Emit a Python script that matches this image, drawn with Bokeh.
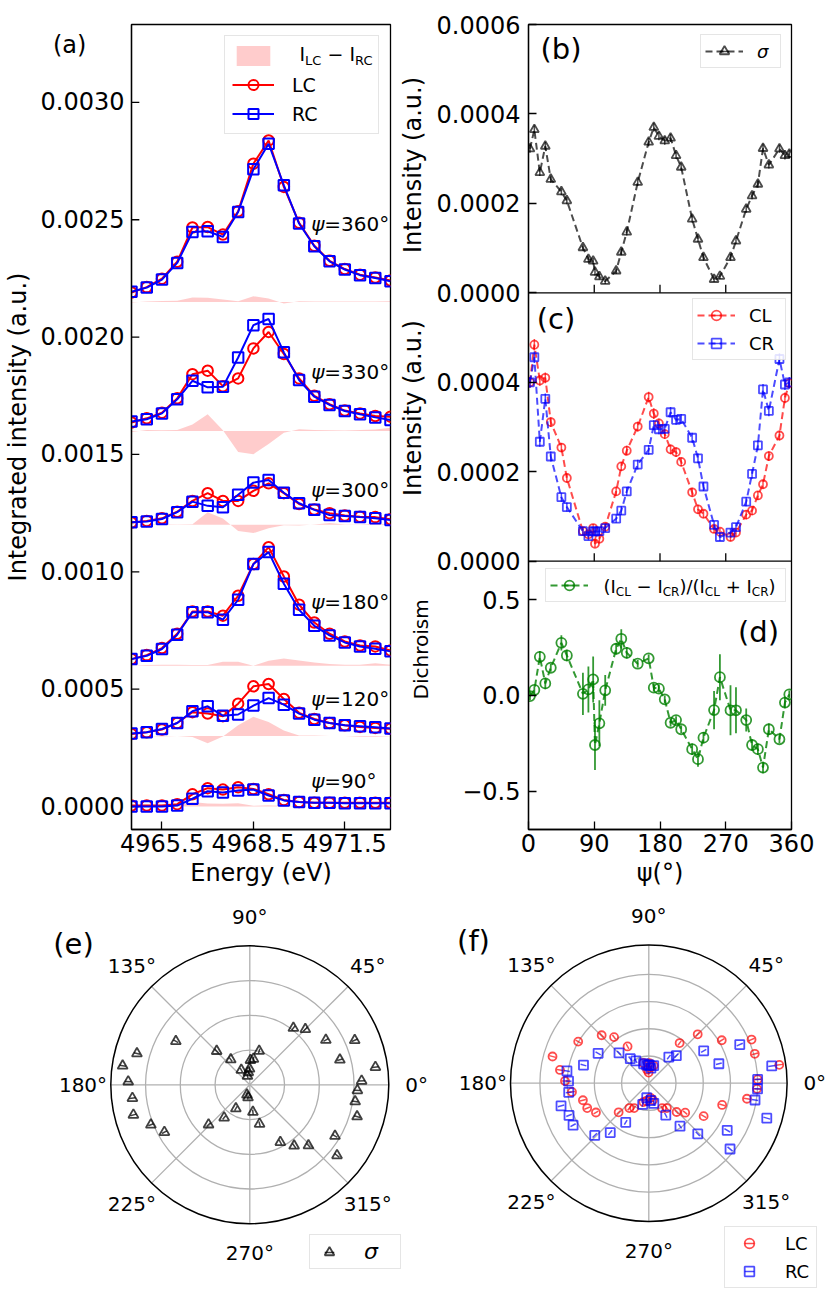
import math
import numpy as np
from bokeh.plotting import figure
from bokeh.models import (Range1d, FixedTicker, CustomJSTickFormatter,
                          Legend, LegendItem, Label, Span)
from bokeh.layouts import row, column
from bokeh.core.properties import value
from bokeh.embed import file_html
from bokeh.resources import INLINE

FONT = "DejaVu Sans"

# ---------------- panel (a) data ----------------
ENERGY = [4964.5, 4965.0, 4965.5, 4966.0, 4966.5, 4967.0, 4967.5, 4968.0, 4968.5,
          4969.0, 4969.5, 4970.0, 4970.5, 4971.0, 4971.5, 4972.0, 4972.5, 4973.0]
PSI_A = ["360", "330", "300", "180", "120", "90"]
LC_360 = [0.002190, 0.002213, 0.002249, 0.002321, 0.002467, 0.002469, 0.002437, 0.002536, 0.002739,
          0.002838, 0.002640, 0.002487, 0.002389, 0.002325, 0.002290, 0.002266, 0.002254, 0.002241]
RC_360 = [0.002193, 0.002211, 0.002245, 0.002316, 0.002448, 0.002451, 0.002427, 0.002533, 0.002715,
          0.002824, 0.002647, 0.002484, 0.002387, 0.002323, 0.002288, 0.002264, 0.002252, 0.002238]
LC_330 = [0.001636, 0.001654, 0.001678, 0.001739, 0.001842, 0.001857, 0.001791, 0.001824, 0.001952,
          0.002022, 0.001928, 0.001824, 0.001750, 0.001714, 0.001687, 0.001675, 0.001664, 0.001661]
RC_330 = [0.001640, 0.001650, 0.001675, 0.001735, 0.001814, 0.001786, 0.001788, 0.001913, 0.002051,
          0.002077, 0.001935, 0.001817, 0.001746, 0.001711, 0.001685, 0.001671, 0.001658, 0.001647]
LC_300 = [0.001210, 0.001217, 0.001228, 0.001256, 0.001302, 0.001335, 0.001302, 0.001302, 0.001345,
          0.001377, 0.001335, 0.001289, 0.001266, 0.001250, 0.001240, 0.001235, 0.001233, 0.001224]
RC_300 = [0.001211, 0.001214, 0.001225, 0.001254, 0.001299, 0.001281, 0.001275, 0.001328, 0.001380,
          0.001391, 0.001337, 0.001292, 0.001264, 0.001242, 0.001238, 0.001233, 0.001228, 0.001221]
LC_180 = [0.000628, 0.000645, 0.000675, 0.000736, 0.000831, 0.000831, 0.000813, 0.000898, 0.001033,
          0.001105, 0.000980, 0.000860, 0.000784, 0.000736, 0.000703, 0.000686, 0.000682, 0.000665]
RC_180 = [0.000628, 0.000642, 0.000671, 0.000732, 0.000828, 0.000828, 0.000796, 0.000881, 0.001033,
          0.001084, 0.000949, 0.000838, 0.000770, 0.000729, 0.000699, 0.000682, 0.000672, 0.000661]
LC_120 = [0.000309, 0.000316, 0.000328, 0.000356, 0.000402, 0.000396, 0.000385, 0.000438, 0.000512,
          0.000522, 0.000458, 0.000399, 0.000373, 0.000356, 0.000346, 0.000339, 0.000335, 0.000331]
RC_120 = [0.000311, 0.000316, 0.000330, 0.000356, 0.000406, 0.000427, 0.000387, 0.000392, 0.000430,
          0.000462, 0.000434, 0.000396, 0.000370, 0.000356, 0.000346, 0.000342, 0.000338, 0.000332]
LC_90 = [0.000004, 0.000004, 0.000004, 0.000010, 0.000052, 0.000078, 0.000072, 0.000082, 0.000075,
         0.000052, 0.000028, 0.000019, 0.000016, 0.000016, 0.000016, 0.000016, 0.000016, 0.000016]
RC_90 = [0.000000, 0.000000, 0.000000, 0.000004, 0.000033, 0.000065, 0.000060, 0.000068, 0.000072,
         0.000047, 0.000026, 0.000019, 0.000016, 0.000016, 0.000014, 0.000014, 0.000014, 0.000014]
BASE_A = [0.00215, 0.0016, 0.0012, 0.0006, 0.0003, 0.0]
LABEL_X = 4970.4
LABEL_Y = [0.00248, 0.00185, 0.00135, 0.00087, 0.00046, 0.00011]
A_XLIM = (4964.5, 4973.0)
A_YLIM = (-0.000098, 0.003332)
A_XTICKS = [4965.5, 4968.5, 4971.5]
A_YTICKS = [0.0, 0.0005, 0.001, 0.0015, 0.002, 0.0025, 0.003]
A_YLABELS = ["0.0000", "0.0005", "0.0010", "0.0015", "0.0020", "0.0025", "0.0030"]
A_TAG_Y = 0.003243          # vertical position of the "(a)" tag

# ---------------- panels (b)-(f) data ----------------
PSI = [2, 8, 15.5, 23, 30.5, 45, 52.5, 74.5, 82, 88.5, 91, 97, 105, 120, 127, 134.5, 149.5,
       164.5, 171.5, 178.5, 186.5, 194.5, 202, 209, 224, 232, 239.5, 254, 262, 276.5, 284,
       298, 306, 314, 321, 329, 343.5, 351, 357]
SIGMA = [3.22e-4, 3.65e-4, 2.69e-4, 3.28e-4, 2.54e-4, 2.26e-4, 2.06e-4, 1.01e-4, 0.75e-4,
         0.71e-4, 0.46e-4, 0.36e-4, 0.26e-4, 0.49e-4, 0.91e-4, 1.36e-4, 2.47e-4, 3.37e-4,
         3.70e-4, 3.50e-4, 3.40e-4, 3.46e-4, 3.07e-4, 2.81e-4, 1.65e-4, 1.20e-4, 0.79e-4,
         0.30e-4, 0.37e-4, 0.79e-4, 1.16e-4, 1.87e-4, 2.17e-4, 2.43e-4, 3.23e-4, 2.86e-4,
         3.22e-4, 3.07e-4, 3.10e-4]
SIGMA_ERR = [9e-6, 9e-6, 8e-6, 9e-6, 8e-6, 8e-6, 8e-6, 7e-6, 7e-6, 7e-6, 7e-6, 6e-6, 6e-6,
             7e-6, 7e-6, 8e-6, 8e-6, 9e-6, 9e-6, 9e-6, 9e-6, 9e-6, 8e-6, 8e-6, 8e-6, 7e-6,
             7e-6, 6e-6, 6e-6, 7e-6, 7e-6, 8e-6, 8e-6, 8e-6, 9e-6, 8e-6, 9e-6, 9e-6, 9e-6]
CL = [4.00e-4, 4.84e-4, 4.04e-4, 4.10e-4, 3.11e-4, 2.54e-4, 1.86e-4, 0.67e-4, 0.60e-4,
      0.74e-4, 0.39e-4, 0.50e-4, 0.77e-4, 1.56e-4, 2.12e-4, 2.47e-4, 3.01e-4, 3.67e-4,
      3.30e-4, 3.08e-4, 2.84e-4, 2.50e-4, 2.44e-4, 2.22e-4, 1.54e-4, 1.16e-4, 1.06e-4,
      0.72e-4, 0.66e-4, 0.54e-4, 0.64e-4, 1.04e-4, 1.13e-4, 1.47e-4, 1.72e-4, 2.35e-4,
      2.81e-4, 3.65e-4, 3.98e-4]
CL_ERR = [1.2e-5, 1.3e-5, 1.2e-5, 1.2e-5, 1.1e-5, 1.0e-5, 1.0e-5, 0.9e-5, 0.9e-5, 0.9e-5,
          0.8e-5, 0.9e-5, 0.9e-5, 1.0e-5, 1.0e-5, 1.1e-5, 1.1e-5, 1.2e-5, 1.2e-5, 1.1e-5,
          1.1e-5, 1.1e-5, 1.1e-5, 1.0e-5, 1.0e-5, 1.0e-5, 0.9e-5, 0.9e-5, 0.9e-5, 0.9e-5,
          0.9e-5, 1.0e-5, 1.0e-5, 1.0e-5, 1.0e-5, 1.1e-5, 1.1e-5, 1.2e-5, 1.2e-5]
CR = [4.00e-4, 4.56e-4, 2.67e-4, 3.63e-4, 2.34e-4, 1.43e-4, 1.21e-4, 0.67e-4, 0.56e-4,
      0.67e-4, 0.66e-4, 0.67e-4, 0.74e-4, 0.95e-4, 1.13e-4, 1.56e-4, 2.16e-4, 2.49e-4,
      3.04e-4, 2.95e-4, 2.96e-4, 3.33e-4, 3.16e-4, 3.18e-4, 2.76e-4, 2.30e-4, 1.67e-4,
      0.81e-4, 0.54e-4, 0.64e-4, 0.76e-4, 1.33e-4, 1.95e-4, 2.59e-4, 3.84e-4, 3.36e-4,
      4.52e-4, 3.95e-4, 4.00e-4]
CR_ERR = [1.2e-5, 1.3e-5, 1.1e-5, 1.2e-5, 1.1e-5, 1.0e-5, 1.0e-5, 0.9e-5, 0.9e-5, 0.9e-5,
          0.9e-5, 0.9e-5, 0.9e-5, 0.9e-5, 1.0e-5, 1.0e-5, 1.1e-5, 1.1e-5, 1.1e-5, 1.1e-5,
          1.1e-5, 1.2e-5, 1.1e-5, 1.1e-5, 1.1e-5, 1.1e-5, 1.0e-5, 0.9e-5, 0.9e-5, 0.9e-5,
          0.9e-5, 1.0e-5, 1.0e-5, 1.1e-5, 1.2e-5, 1.2e-5, 1.3e-5, 1.2e-5, 1.2e-5]
DICH = [-0.004, 0.028, 0.201, 0.062, 0.144, 0.274, 0.208, 0.008, 0.031, 0.083, -0.259,
        -0.146, 0.026, 0.243, 0.295, 0.222, 0.165, 0.193, 0.040, 0.035, -0.021, -0.143,
        -0.129, -0.177, -0.281, -0.333, -0.221, -0.077, 0.095, -0.078, -0.078, -0.129,
        -0.259, -0.281, -0.377, -0.177, -0.229, -0.038, 0.005]
DICH_ERR = [0.02, 0.02, 0.03, 0.03, 0.02, 0.04, 0.03, 0.11, 0.12, 0.12, 0.13, 0.12, 0.08,
            0.03, 0.05, 0.03, 0.02, 0.02, 0.02, 0.02, 0.02, 0.02, 0.02, 0.02, 0.03, 0.04,
            0.03, 0.10, 0.12, 0.13, 0.12, 0.06, 0.03, 0.03, 0.03, 0.03, 0.02, 0.03, 0.02]
PSI_LIM = (0, 360)
PSI_TICKS = [0, 90, 180, 270, 360]
B_LIM = (0.0, 0.0006)
C_LIM = (0.0, 0.0006)
D_LIM = (-0.7, 0.7)
B_YTICKS = [0.0, 0.0002, 0.0004, 0.0006]
B_YLABELS = ["0.0000", "0.0002", "0.0004", "0.0006"]
C_YTICKS = [0.0, 0.0002, 0.0004]
C_YLABELS = ["0.0000", "0.0002", "0.0004"]
D_YTICKS = [-0.5, 0.0, 0.5]
D_YLABELS = ["\u22120.5", "0.0", "0.5"]
THETA_TICKS = [0, 45, 90, 135, 180, 225, 270, 315]
THETA_LABELS = ["0\u00b0", "45\u00b0", "90\u00b0", "135\u00b0", "180\u00b0", "225\u00b0", "270\u00b0", "315\u00b0"]
E_RINGS = [1e-4, 2e-4, 3e-4]
E_RMAX = 4e-4
F_RINGS = [1e-4, 2e-4, 3e-4, 4e-4]
F_RMAX = 5.08e-4

# ---------------- layout constants (pixels) ----------------
ROW1_H = 894
ROW2_H = 406
A_W = 400
S_W = 33
R_W = 398
E_W = 430
F_W = 401
FRAME_H = 806
A_FRAME_W = 265
PANEL_H = FRAME_H / 3.0
TICK_PX = 8

CHAR_W = {"(": 0.390, ")": 0.390, "/": 0.337, "I": 0.295, "C": 0.698, "L": 0.557,
          "R": 0.695, " ": 0.318, "\u2212": 0.838, "+": 0.838}


def style_axis(ax, standoff, label_standoff=4):
    ax.major_label_text_font = FONT
    ax.major_label_text_font_size = "24px"
    ax.major_label_text_color = "black"
    ax.axis_label_text_font = FONT
    ax.axis_label_text_font_size = "24px"
    ax.axis_label_text_font_style = "normal"
    ax.axis_label_text_color = "black"
    ax.major_tick_in = TICK_PX
    ax.major_tick_out = 0
    ax.minor_tick_in = 0
    ax.minor_tick_out = 0
    ax.major_tick_line_color = "black"
    ax.major_tick_line_width = 1.3
    ax.axis_line_color = "black"
    ax.axis_line_width = 1.3
    ax.major_label_standoff = standoff
    ax.axis_label_standoff = label_standoff


def lookup_formatter(pos, labs):
    return CustomJSTickFormatter(args=dict(pos=pos, labs=labs), code="""
for (let i = 0; i < pos.length; i++) {
  if (Math.abs(pos[i] - tick) < 1e-9) { return labs[i]; }
}
return "";
""")


def add_label(p, x, y, text, size, angle=0.0, align="center", level="overlay"):
    p.add_layout(Label(x=x, y=y, x_units="screen", y_units="screen", text=text,
                       text_font=FONT, text_font_size=f"{size}px", text_color="black",
                       text_align=align, text_baseline="middle", angle=angle, level=level))


def rich_text(p, x, y, pieces, main_px, sub_px, drop):
    cx = x
    for txt, sub in pieces:
        size = sub_px if sub else main_px
        if txt.strip():
            add_label(p, cx, y - drop if sub else y, txt, size, align="left")
        cx += sum(CHAR_W[c] for c in txt) * size


def make_legend(items, location, font_px, pad, glyph_w, glyph_h, standoff, label_w,
                spacing=4, margin=10, style="normal", bg_alpha=0.85):
    return Legend(items=items, location=location, margin=margin, padding=pad,
                  spacing=spacing, glyph_width=glyph_w, glyph_height=glyph_h,
                  label_standoff=standoff, label_width=label_w, label_height=glyph_h,
                  label_text_font=FONT, label_text_font_size=f"{font_px}px",
                  label_text_color="black", label_text_font_style=style,
                  border_line_color="#cccccc", border_line_width=1.5,
                  background_fill_color="white", background_fill_alpha=bg_alpha)


# ======================= panel (a) =======================
pa = figure(width=A_W, height=ROW1_H, x_range=Range1d(*A_XLIM), y_range=Range1d(*A_YLIM),
            output_backend="svg", toolbar_location=None,
            min_border_left=125, min_border_right=A_W - 125 - A_FRAME_W, min_border_top=24,
            min_border_bottom=ROW1_H - 24 - FRAME_H)
pa.grid.visible = False
pa.outline_line_color = "black"
pa.outline_line_width = 1.3
style_axis(pa.xaxis[0], 4, 4)
style_axis(pa.yaxis[0], 7, 6)
pa.yaxis.major_tick_in = 0
pa.xaxis.ticker = FixedTicker(ticks=A_XTICKS, minor_ticks=[])
a_pos = A_YTICKS + [A_TAG_Y]
a_lab = A_YLABELS + ["(a)" + "\u00a0" * 5]
pa.yaxis.ticker = FixedTicker(ticks=a_pos, minor_ticks=[])
pa.yaxis.formatter = lookup_formatter(a_pos, a_lab)
pa.xaxis.axis_label = "Energy (eV)"
pa.yaxis.axis_label = "Integrated intensity (a.u.)"
# inward y tick marks (drawn at the tick values only)
a_tick_len = (A_XLIM[1] - A_XLIM[0]) * TICK_PX / A_FRAME_W
pa.segment(x0=A_XLIM[0], y0=A_YTICKS, x1=A_XLIM[0] + a_tick_len, y1=A_YTICKS,
           line_color="black", line_width=1.3)

LC_A = [LC_360, LC_330, LC_300, LC_180, LC_120, LC_90]
RC_A = [RC_360, RC_330, RC_300, RC_180, RC_120, RC_90]
fill_r = None
lc_r = rc_r = None
for i in range(len(LC_A)):
    lc = np.array(LC_A[i])
    rc = np.array(RC_A[i])
    fr = pa.varea(x=ENERGY, y1=BASE_A[i], y2=BASE_A[i] + lc - rc, fill_color="red", fill_alpha=0.2)
    if fill_r is None:
        fill_r = fr
    l1 = pa.line(ENERGY, lc, line_color="red", line_width=2)
    m1 = pa.scatter(ENERGY, lc, marker="circle", size=10.5, fill_color=None,
                    line_color="red", line_width=2)
    e1 = pa.scatter(ENERGY, lc, marker="dash", angle=math.pi / 2, size=0,
                    line_color="red", line_width=2)
    l2 = pa.line(ENERGY, rc, line_color="blue", line_width=2)
    m2 = pa.scatter(ENERGY, rc, marker="square", size=10.5, fill_color=None,
                    line_color="blue", line_width=2)
    e2 = pa.scatter(ENERGY, rc, marker="dash", angle=math.pi / 2, size=0,
                    line_color="blue", line_width=2)
    if lc_r is None:
        lc_r = [l1, m1, e1]
        rc_r = [l2, m2, e2]

pa.text(x=[LABEL_X] * len(PSI_A), y=LABEL_Y, text=["\u03c8"] * len(PSI_A),
        text_font=value(FONT), text_font_size="20px", text_font_style="italic",
        text_color="black", text_baseline="middle", text_align="left")
pa.text(x=[LABEL_X] * len(PSI_A), y=LABEL_Y, text=["=" + s + "\u00b0" for s in PSI_A],
        x_offset=13, text_font=value(FONT), text_font_size="20px",
        text_color="black", text_baseline="middle", text_align="left")

leg_a = make_legend([LegendItem(label=" ", renderers=[fill_r]),
                     LegendItem(label="LC", renderers=lc_r),
                     LegendItem(label="RC", renderers=rc_r)],
                    "top_right", 19, 7, 42, 25, 18, 79, spacing=4, margin=11, bg_alpha=0.0)
pa.add_layout(leg_a)
leg_a_w = 2 * 7 + 42 + 18 + 79
txt_x = A_FRAME_W - 11 - leg_a_w + 7 + 42 + 18
row_y = FRAME_H - 11 - 7 - 12.5
rich_text(pa, txt_x, row_y, [("I", 0), ("LC", 1), (" ", 0), ("\u2212", 0), (" ", 0),
                             ("I", 0), ("RC", 1)], 19, 13, 6)

# ======================= strip with the y titles of (b), (c), (d) =======================
ps = figure(width=S_W, height=ROW1_H, x_range=Range1d(0, S_W), y_range=Range1d(0, ROW1_H),
            x_axis_type=None, y_axis_type=None, output_backend="svg", toolbar_location=None,
            min_border=0, outline_line_color=None)
TITLE_X = [12.5, 12.5, 20.5]
TITLE_Y = [738, 468, 200]
TITLE_TXT = ["Intensity (a.u.)", "Intensity (a.u.)", "Dichroism"]
TITLE_SIZE = ["24px", "24px", "20px"]
ps.text(x=TITLE_X, y=TITLE_Y, text=TITLE_TXT, angle=math.pi / 2, text_font=value(FONT),
        text_font_size=TITLE_SIZE, text_color="black", text_align="center",
        text_baseline="middle")


# ======================= panels (b), (c), (d) =======================
def panel_range(lim, k):
    span = lim[1] - lim[0]
    return (lim[0] - (2 - k) * span, lim[1] + k * span)


RB = panel_range(B_LIM, 0)
RCR = panel_range(C_LIM, 1)
RD = panel_range(D_LIM, 2)

pr = figure(width=R_W, height=ROW1_H, x_range=Range1d(*PSI_LIM), y_range=Range1d(*RB),
            output_backend="svg", toolbar_location=None,
            min_border_left=92, min_border_right=R_W - 92 - 266, min_border_top=23,
            min_border_bottom=ROW1_H - 23 - FRAME_H)
pr.extra_y_ranges = {"c": Range1d(*RCR), "d": Range1d(*RD)}
pr.grid.visible = False
pr.outline_line_color = "black"
pr.outline_line_width = 1.3
style_axis(pr.xaxis[0], 4, 4)
style_axis(pr.yaxis[0], 8, 4)
pr.xaxis.ticker = FixedTicker(ticks=PSI_TICKS, minor_ticks=[])
pr.xaxis.axis_label = "\u03c8(\u00b0)"


def to_b(v, rng):
    frac = (v - rng[0]) / (rng[1] - rng[0])
    return round(RB[0] + frac * (RB[1] - RB[0]), 12)


ypos, ylab = [], []
for ticks, labs, rng in ((B_YTICKS, B_YLABELS, RB), (C_YTICKS, C_YLABELS, RCR), (D_YTICKS, D_YLABELS, RD)):
    for t, l in zip(ticks, labs):
        ypos.append(to_b(t, rng))
        ylab.append(l)
order = sorted(range(len(ypos)), key=lambda i: ypos[i])
ypos = [ypos[i] for i in order]
ylab = [ylab[i] for i in order]
pr.yaxis.ticker = FixedTicker(ticks=ypos, minor_ticks=[])
pr.yaxis.formatter = lookup_formatter(ypos, ylab)

# panel separators and inner x ticks
pr.add_layout(Span(location=B_LIM[0], dimension="width", line_color="black", line_width=1.3))
pr.add_layout(Span(location=D_LIM[1], dimension="width", line_color="black", line_width=1.3,
                   y_range_name="d"))
inner = [t for t in PSI_TICKS if PSI_LIM[0] < t < PSI_LIM[1]]
tick_b = (B_LIM[1] - B_LIM[0]) * TICK_PX / PANEL_H
pr.segment(x0=inner, y0=B_LIM[0], x1=inner, y1=B_LIM[0] + tick_b, line_color="black", line_width=1.3)
pr.segment(x0=inner, y0=C_LIM[0], x1=inner, y1=C_LIM[0] + tick_b, line_color="black",
           line_width=1.3, y_range_name="c")

sig = np.array(SIGMA)
sig_e = np.array(SIGMA_ERR)
clv = np.array(CL)
cl_e = np.array(CL_ERR)
crv = np.array(CR)
cr_e = np.array(CR_ERR)
dv = np.array(DICH)
d_e = np.array(DICH_ERR)

# (b)
b_line = pr.line(PSI, SIGMA, line_color="black", line_alpha=0.7, line_width=2, line_dash="7 4")
pr.segment(x0=PSI, y0=sig - sig_e, x1=PSI, y1=sig + sig_e, line_color="black", line_alpha=0.7, line_width=1.5)
b_pts = pr.scatter(PSI, SIGMA, marker="triangle", size=9, fill_color=None, line_color="black",
                   line_alpha=0.7, line_width=1.8)
b_err = pr.scatter(PSI, SIGMA, marker="dash", angle=math.pi / 2, size=0, line_color="black",
                   line_alpha=0.7, line_width=1.5)

# (c)
c1_line = pr.line(PSI, CL, line_color="red", line_alpha=0.7, line_width=2, line_dash="7 4", y_range_name="c")
pr.segment(x0=PSI, y0=clv - cl_e, x1=PSI, y1=clv + cl_e, line_color="red", line_alpha=0.7,
           line_width=1.5, y_range_name="c")
c1_pts = pr.scatter(PSI, CL, marker="circle", size=8, fill_color=None, line_color="red",
                    line_alpha=0.7, line_width=1.8, y_range_name="c")
c1_err = pr.scatter(PSI, CL, marker="dash", angle=math.pi / 2, size=0, line_color="red",
                    line_alpha=0.7, line_width=1.5, y_range_name="c")
c2_line = pr.line(PSI, CR, line_color="blue", line_alpha=0.7, line_width=2, line_dash="7 4", y_range_name="c")
pr.segment(x0=PSI, y0=crv - cr_e, x1=PSI, y1=crv + cr_e, line_color="blue", line_alpha=0.7,
           line_width=1.5, y_range_name="c")
c2_pts = pr.scatter(PSI, CR, marker="square", size=8, fill_color=None, line_color="blue",
                    line_alpha=0.7, line_width=1.8, y_range_name="c")
c2_err = pr.scatter(PSI, CR, marker="dash", angle=math.pi / 2, size=0, line_color="blue",
                    line_alpha=0.7, line_width=1.5, y_range_name="c")

# (d)
d_line = pr.line(PSI, DICH, line_color="green", line_alpha=0.8, line_width=2, line_dash="7 4", y_range_name="d")
pr.segment(x0=PSI, y0=dv - d_e, x1=PSI, y1=dv + d_e, line_color="green", line_alpha=0.8,
           line_width=1.8, y_range_name="d")
d_pts = pr.scatter(PSI, DICH, marker="circle", size=10, fill_color=None, line_color="green",
                   line_alpha=0.8, line_width=1.8, y_range_name="d")
d_err = pr.scatter(PSI, DICH, marker="dash", angle=math.pi / 2, size=0, line_color="green",
                   line_alpha=0.8, line_width=1.8, y_range_name="d")

pr.add_layout(make_legend([LegendItem(label="\u03c3", renderers=[b_line, b_pts, b_err])],
                          "top_right", 18, 4, 38, 24, 14, 19, margin=10, style="italic"))
pr.add_layout(make_legend([LegendItem(label="CL", renderers=[c1_line, c1_pts, c1_err]),
                           LegendItem(label="CR", renderers=[c2_line, c2_pts, c2_err])],
                          (164, 469), 18, 4, 38, 24, 14, 32))
pr.add_layout(make_legend([LegendItem(label=" ", renderers=[d_line, d_pts, d_err])],
                          (17, 227), 18, 4, 38, 24, 16, 177, bg_alpha=0.0))
rich_text(pr, 17 + 4 + 38 + 16, 227 + 16,
          [("(", 0), ("I", 0), ("CL", 1), (" ", 0), ("\u2212", 0), (" ", 0), ("I", 0), ("CR", 1),
           (")/(", 0), ("I", 0), ("CL", 1), (" ", 0), ("+", 0), (" ", 0), ("I", 0), ("CR", 1),
           (")", 0)], 18, 12, 5)

add_label(pr, 32.5, FRAME_H - 25, "(b)", 29)
add_label(pr, 27.5, FRAME_H - 295, "(c)", 29)
add_label(pr, 230, 197.5, "(d)", 29)


# ======================= polar panels (e), (f) =======================
def polar_fig(width, cx, cy, rmax_px, rmax, rings):
    s = rmax_px / rmax
    p = figure(width=width, height=ROW2_H,
               x_range=Range1d(-cx / s, (width - cx) / s),
               y_range=Range1d(-(ROW2_H - cy) / s, cy / s),
               x_axis_type=None, y_axis_type=None, output_backend="svg",
               toolbar_location=None, min_border=0, outline_line_color=None)
    p.circle(x=0, y=0, radius=rings, fill_color=None, line_color="#b0b0b0", line_width=1.3)
    p.ray(x=0, y=0, length=rmax, angle=THETA_TICKS, angle_units="deg",
          line_color="#b0b0b0", line_width=1.3)
    p.circle(x=0, y=0, radius=rmax, fill_color=None, line_color="black", line_width=1.5)
    th = np.radians(THETA_TICKS)
    p.text(x=1.2 * rmax * np.cos(th), y=1.21 * rmax * np.sin(th), text=THETA_LABELS,
           text_font=value(FONT), text_font_size="20px", text_color="black",
           text_align="center", text_baseline="middle")
    return p


def polar_series(p, r, err, marker, color, alpha, size):
    th = np.radians(PSI)
    r = np.array(r)
    err = np.array(err)
    p.segment(x0=(r - err) * np.cos(th), y0=(r - err) * np.sin(th),
              x1=(r + err) * np.cos(th), y1=(r + err) * np.sin(th),
              line_color=color, line_alpha=alpha, line_width=1.5)
    pts = p.scatter(r * np.cos(th), r * np.sin(th), marker=marker, size=size, fill_color=None,
                    line_color=color, line_alpha=alpha, line_width=1.8)
    bar = p.scatter(r * np.cos(th), r * np.sin(th), marker="dash", angle=math.pi / 2, size=0,
                    line_color=color, line_alpha=alpha, line_width=1.5)
    return [pts, bar]


pe = polar_fig(E_W, 249.3, 190.3, 139.0, E_RMAX, E_RINGS)
e_r = polar_series(pe, SIGMA, SIGMA_ERR, "triangle", "black", 0.75, 10)
pe.add_layout(make_legend([LegendItem(label="\u03c3", renderers=e_r)], (309, 31),
                          22, 4, 30, 24, 20, 32, style="italic"))
add_label(pe, 73, ROW2_H - (943 - ROW1_H), "(e)", 29)

pf = polar_fig(F_W, 648.3 - E_W, 188.7, 138.3, F_RMAX, F_RINGS)
f1 = polar_series(pf, CL, CL_ERR, "circle", "red", 0.7, 8)
f2 = polar_series(pf, CR, CR_ERR, "square", "blue", 0.7, 9)
pf.add_layout(make_legend([LegendItem(label="LC", renderers=f1),
                           LegendItem(label="RC", renderers=f2)], (724 - E_W, 12),
                          18, 4, 40, 24, 16, 27))
add_label(pf, 473 - E_W, ROW2_H - (940 - ROW1_H), "(f)", 29)

layout = column(row(pa, ps, pr), row(pe, pf))
open("out.html", "w").write(file_html(layout, INLINE))
